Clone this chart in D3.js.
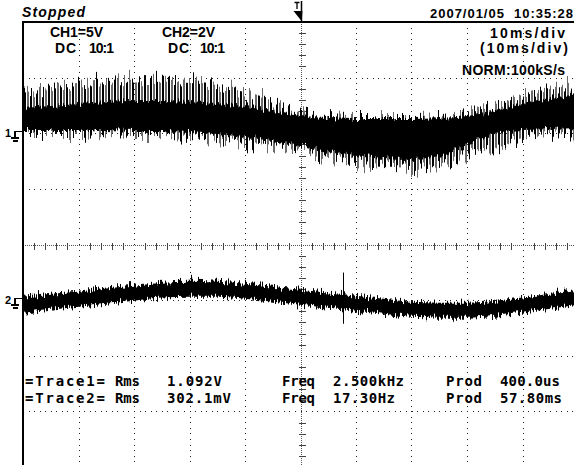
<!DOCTYPE html>
<html>
<head>
<meta charset="utf-8">
<script src="https://cdn.jsdelivr.net/npm/d3@7"></script>
<style>
  html, body { margin: 0; padding: 0; background: #fff; }
  svg { display: block; }
  .hdr { font-family: "Liberation Sans", Arial, sans-serif; font-weight: bold; font-size: 14px; fill: #000; }
  .meas { font-family: "DejaVu Sans Mono", monospace; font-weight: bold; font-size: 14px; fill: #000; }
</style>
</head>
<body>
<svg id="scope" width="574" height="465"></svg>
<script>
// time base: 10 ms/div, envelope read every half division
const times = [0, 5, 10, 15, 20, 25, 30, 35, 40, 45, 50, 55, 60, 65, 70, 75, 80, 85, 90, 95, 100];

// CH1 (5 V/div), envelope of the 2.5 kHz trace, volts
const ch1SpikeTop    = [3.35, 3.95, 4.35, 4.60, 4.75, 4.80, 4.70, 4.40, 3.75, 2.80, 1.85, 1.55, 1.46, 1.46, 1.46, 1.55, 1.85, 2.70, 3.45, 4.00, 4.35];
const ch1BodyTop     = [2.27, 2.45, 2.63, 2.81, 2.90, 2.90, 2.81, 2.63, 2.36, 2.00, 1.55, 1.37, 1.28, 1.28, 1.28, 1.37, 1.55, 2.00, 2.63, 3.08, 3.44];
const ch1BodyBottom  = [0.29, 0.29, 0.29, 0.29, 0.20, 0.20, 0.11, -0.07, -0.34, -0.70, -1.15, -1.60, -1.96, -2.23, -2.32, -2.05, -0.97, 0.02, 0.29, 0.38, 0.47];
const ch1SpikeBottom = [-0.25, -0.25, -0.25, -0.16, -0.25, -0.25, -0.34, -0.52, -0.79, -1.15, -1.60, -2.14, -2.68, -2.95, -3.13, -2.86, -1.96, -1.33, -0.34, -0.07, 0.11];

// CH2 (2 V/div), noisy band, volts
const ch2Top    = [0.12, 0.23, 0.30, 0.45, 0.55, 0.66, 0.70, 0.66, 0.59, 0.48, 0.37, 0.27, 0.16, 0.05, -0.06, -0.09, -0.09, -0.02, 0.09, 0.23, 0.37];
const ch2Bottom = [-0.45, -0.35, -0.24, -0.13, -0.02, 0.09, 0.12, 0.12, 0.05, -0.06, -0.17, -0.27, -0.38, -0.49, -0.60, -0.63, -0.63, -0.56, -0.45, -0.31, -0.17];
const ch2Glitches = [{ t: 57.6, hi: 0.99, lo: -0.85 }];

// channel settings
const ch1 = { vdiv: 5, pos: 2 };
const ch2 = { vdiv: 2, pos: -1 };

// screen texts
const status = 'Stopped';
const stamp = '2007/01/05  10:35:28';
const chLabels = ['CH1=5V', 'CH2=2V'];
const coupling = ['DC', '10:1'];
const timeLabels = ['10ms/div', '(10ms/div)', 'NORM:100kS/s'];
const measRows = [
	['=Trace1=', 'Rms', '1.092V', 'Freq', '2.500kHz', 'Prod', '400.0us'],
	['=Trace2=', 'Rms', '302.1mV', 'Freq', '17.30Hz', 'Prod', '57.80ms'],
];

const W = 574, H = 465;
const svg = d3.select('#scope');

const x = d3.scaleLinear().domain([0, 100]).range([23, 578]);
const yDiv = d3.scaleLinear().domain([-4, 4]).range([467, 22]);
const yOf = (c) => (v) => yDiv(v / c.vdiv + c.pos);
const y1 = yOf(ch1), y2 = yOf(ch2);
const px = (v) => Math.round(v) + 0.5;

svg.append('rect').attr('width', W).attr('height', H).attr('fill', '#fff');

// ---- defs: carrier texture + noise filters
const defs = svg.append('defs');
defs.append('clipPath').attr('id', 'screen')
	.append('rect').attr('x', 24).attr('y', 23).attr('width', 560).attr('height', 450);

const pat = defs.append('pattern').attr('id', 'carrier')
	.attr('width', 6).attr('height', 10).attr('patternUnits', 'userSpaceOnUse');
pat.append('rect').attr('x', 0).attr('width', 2).attr('height', 10).attr('fill', '#000');
pat.append('rect').attr('x', 3).attr('width', 2).attr('height', 10).attr('fill', '#6a6a6a');

function noiseFilter(id, freq, scale, seed) {
	const f = defs.append('filter').attr('id', id)
		.attr('x', '-2%').attr('y', '-60%').attr('width', '104%').attr('height', '220%')
		.attr('color-interpolation-filters', 'sRGB');
	f.append('feTurbulence').attr('type', 'fractalNoise')
		.attr('baseFrequency', freq).attr('numOctaves', 2).attr('seed', seed).attr('result', 'n');
	// keep only the green channel so the shift is vertical
	f.append('feColorMatrix').attr('in', 'n').attr('type', 'matrix')
		.attr('values', '0 0 0 0 0.5  0 1 0 0 0  0 0 0 0 0  0 0 0 0 1').attr('result', 'm');
	f.append('feDisplacementMap').attr('in', 'SourceGraphic').attr('in2', 'm')
		.attr('scale', scale).attr('xChannelSelector', 'R').attr('yChannelSelector', 'G');
}
noiseFilter('spiky', '0.45 0.002', 36, 3);
noiseFilter('rough', '0.6 0.01', 12, 7);
noiseFilter('rough2', '0.7 0.02', 15, 11);

// ---- graticule
const grid = svg.append('g').attr('shape-rendering', 'crispEdges');
const vLines = d3.range(1, 10).filter((i) => i !== 5);
const hLines = d3.range(-3, 4).filter((k) => k !== 0);

grid.selectAll('.gv').data(vLines).join('line')
	.attr('class', 'gv')
	.attr('x1', (i) => px(x(i * 10))).attr('x2', (i) => px(x(i * 10)))
	.attr('y1', 22).attr('y2', H)
	.attr('stroke', '#222').attr('stroke-dasharray', '1 4.56');

grid.selectAll('.gh').data(hLines).join('line')
	.attr('class', 'gh')
	.attr('y1', (k) => px(yDiv(k))).attr('y2', (k) => px(yDiv(k)))
	.attr('x1', 23).attr('x2', W)
	.attr('stroke', '#222').attr('stroke-dasharray', '1 4.55');

const cx = px(x(50)), cy = px(yDiv(0));
grid.append('line').attr('x1', cx).attr('x2', cx).attr('y1', 22).attr('y2', H)
	.attr('stroke', '#555').attr('stroke-dasharray', '1 1');
grid.append('line').attr('y1', cy).attr('y2', cy).attr('x1', 23).attr('x2', W)
	.attr('stroke', '#555').attr('stroke-dasharray', '1 1');

// minor ticks, 5 per division
grid.selectAll('.tv').data(d3.range(-19, 20).filter((k) => k % 5 !== 0)).join('line')
	.attr('class', 'tv')
	.attr('x1', cx - 3).attr('x2', cx + 4)
	.attr('y1', (k) => px(yDiv(k / 5))).attr('y2', (k) => px(yDiv(k / 5)))
	.attr('stroke', '#444');
grid.selectAll('.th').data(d3.range(1, 50).filter((k) => k % 5 !== 0)).join('line')
	.attr('class', 'th')
	.attr('y1', cy - 3).attr('y2', cy + 4)
	.attr('x1', (k) => px(x(k * 2))).attr('x2', (k) => px(x(k * 2)))
	.attr('stroke', '#444');

// frame (left and top edges)
grid.append('path').attr('d', `M23,${H}V22H${W}`)
	.attr('fill', 'none').attr('stroke', '#000').attr('stroke-width', 2);

// ---- traces
const traces = svg.append('g').attr('clip-path', 'url(#screen)');

const ch1Data = times.map((t, i) => ({
	t,
	sTop: ch1SpikeTop[i], bTop: ch1BodyTop[i],
	bBot: ch1BodyBottom[i], sBot: ch1SpikeBottom[i],
}));
const ch2Data = times.map((t, i) => ({ t, top: ch2Top[i], bot: ch2Bottom[i] }));

const band = (lo, hi, yFn) => d3.area()
	.curve(d3.curveMonotoneX)
	.x((d) => x(d.t))
	.y0((d) => yFn(d[lo]))
	.y1((d) => yFn(d[hi]));

traces.append('path').datum(ch1Data)
	.attr('d', band('sBot', 'sTop', y1))
	.attr('fill', 'url(#carrier)')
	.attr('filter', 'url(#spiky)');

traces.append('path').datum(ch1Data)
	.attr('d', band('bBot', 'bTop', y1))
	.attr('fill', '#000')
	.attr('filter', 'url(#rough)');

traces.append('path').datum(ch2Data)
	.attr('d', band('bot', 'top', y2))
	.attr('fill', '#000')
	.attr('filter', 'url(#rough2)');

traces.selectAll('.glitch').data(ch2Glitches).join('line')
	.attr('class', 'glitch')
	.attr('x1', (d) => px(x(d.t))).attr('x2', (d) => px(x(d.t)))
	.attr('y1', (d) => y2(d.hi)).attr('y2', (d) => y2(d.lo))
	.attr('stroke', '#000').attr('stroke-width', 1);

// ---- ground markers
function groundMark(label, gy) {
	const g = svg.append('g');
	g.append('text').attr('x', 5).attr('y', gy + 4)
		.attr('font-family', 'Liberation Sans, sans-serif').attr('font-weight', 'bold')
		.attr('font-size', 11).text(label);
	g.append('path')
		.attr('d', `M22,${gy - 1.5}H15V${gy + 5}M11,${gy + 5}H19M12.5,${gy + 8}H17.5`)
		.attr('fill', 'none').attr('stroke', '#000').attr('stroke-width', 1.2)
		.attr('shape-rendering', 'crispEdges');
}
groundMark('1', Math.round(y1(0)));
groundMark('2', Math.round(y2(0)));

// ---- trigger position mark
const trig = svg.append('g');
trig.append('line').attr('x1', cx).attr('x2', cx).attr('y1', 1).attr('y2', 21)
	.attr('stroke', '#000').attr('stroke-width', 1.5);
trig.append('path').attr('d', `M${cx - 7},2.5H${cx - 2}M${cx - 4.5},2.5V9`)
	.attr('stroke', '#000').attr('stroke-width', 1.3).attr('fill', 'none');
trig.append('path').attr('d', `M${cx - 8},11H${cx + 1}L${cx},21Z`).attr('fill', '#000');

// ---- header texts
const hdr = svg.append('g').attr('class', 'hdr');
const put = (g, s, xx, yy, len) => {
	const t = g.append('text').attr('x', xx).attr('y', yy).style('white-space', 'pre').text(s);
	if (len) t.attr('textLength', len).attr('lengthAdjust', 'spacing');
	return t;
};

put(hdr, status, 22, 17, 63).attr('font-style', 'italic').attr('font-size', 14);
put(hdr, stamp, 430, 18, 143).attr('font-size', 13);

put(hdr, chLabels[0], 50, 37, 53);
put(hdr, coupling[0], 55, 53, 21);
put(hdr, coupling[1], 89, 53, 25);
put(hdr, chLabels[1], 162, 37, 53);
put(hdr, coupling[0], 168, 53, 21);
put(hdr, coupling[1], 200, 53, 25);

put(hdr, timeLabels[0], 490, 38, 75);
put(hdr, timeLabels[1], 480, 53, 88);
put(hdr, timeLabels[2], 462, 75, 103);

// ---- measurement rows
const meas = svg.append('g').attr('class', 'meas');
const colX = [25, 115, 167, 282, 333, 446, 500];
const colW = [[80, 25, 55, 33, 71, 36, 60], [80, 25, 64, 33, 62, 36, 62]];
const rowY = [386, 403];
measRows.forEach((row, r) => {
	row.forEach((s, c) => {
		put(meas, s, colX[c], rowY[r], colW[r][c]);
	});
});
</script>
</body>
</html>
